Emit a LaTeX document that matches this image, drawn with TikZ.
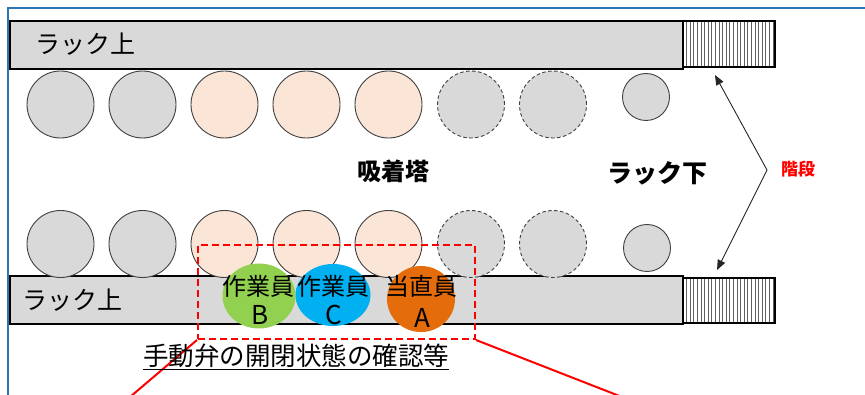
\documentclass[tikz,border=0pt]{standalone}
\usepackage{fontspec}
\setmainfont{Noto Sans CJK JP}
\usetikzlibrary{arrows.meta,shapes.geometric}
\definecolor{rackgray}{HTML}{D9D9D9}
\definecolor{peach}{HTML}{FBE5D6}
\definecolor{wgreen}{HTML}{92D050}
\definecolor{wblue}{HTML}{00B0F0}
\definecolor{worange}{HTML}{E46C0A}
\definecolor{framebl}{HTML}{2E75B6}
\definecolor{hatchgray}{HTML}{606060}
\tikzset{
  rackbox/.style={draw=black, line width=2pt, fill=rackgray, anchor=north west, inner sep=0pt, outer sep=0pt},
  stairbox/.style={draw=black, line width=2pt, fill=white, anchor=north west, inner sep=0pt, outer sep=0pt,
    path picture={\foreach \i in {1,...,25}{\draw[hatchgray, line width=1pt] ([xshift=\i*3.6pt]path picture bounding box.north west) -- ([xshift=\i*3.6pt]path picture bounding box.south west);}}},
  tower/.style={circle, draw=black!75, line width=0.9pt, minimum size=67pt, inner sep=0pt},
  gtower/.style={tower, fill=rackgray},
  ptower/.style={tower, fill=peach},
  dtower/.style={tower, fill=rackgray, dashed, dash pattern=on 3.5pt off 2.5pt},
  stower/.style={circle, draw=black!75, line width=0.9pt, minimum size=47pt, inner sep=0pt, fill=rackgray},
  worker/.style={ellipse, inner sep=0pt, draw=none},
  wtext/.style={font=\fontsize{24}{24}\selectfont, inner sep=0pt},
  wletter/.style={font=\fontsize{26}{26}\selectfont, inner sep=0pt},
  rtext/.style={font=\fontsize{25}{25}\selectfont, inner sep=0pt},
  btext/.style={font=\fontsize{24}{24}\selectfont\bfseries, inner sep=0pt},
  stairarrow/.style={draw=black!85, line width=0.9pt, -{Triangle[length=10pt,width=8pt]}},
  redzone/.style={draw=red, line width=2pt, dash pattern=on 7pt off 4pt},
  redline/.style={draw=red, line width=2pt}
}
\begin{document}
\begin{tikzpicture}[x=1pt, y=-1pt]
\useasboundingbox (0,0) rectangle (865,395);
\begin{scope}
\clip (0,0) rectangle (865,395);
% frame
\draw[framebl, line width=1.5pt] (8,400) -- (8,8) -- (870,8);

% racks and stairs
\node[rackbox, minimum width=673pt, minimum height=48pt] (rtop) at (10,21) {};
\node[stairbox, minimum width=92pt, minimum height=46pt] (stop) at (683,21) {};
\node[rackbox, minimum width=673pt, minimum height=48pt] (rbot) at (10,276) {};
\node[stairbox, minimum width=92pt, minimum height=45pt] (sbot) at (683,278) {};

\node[rtext] (ltop) at (85,44) {ラック上};
\node[rtext] (lbot) at (72,300) {ラック上};

% top row towers
\node[gtower] (t1) at (60.5,104.5) {};
\node[gtower] (t2) at (142.5,104.5) {};
\node[ptower] (t3) at (224.5,104.5) {};
\node[ptower] (t4) at (306.5,104.5) {};
\node[ptower] (t5) at (388.5,104.5) {};
\node[dtower] (t6) at (471,104.5) {};
\node[dtower] (t7) at (553,104.5) {};
\node[stower] (t8) at (646,97) {};

% bottom row towers
\node[gtower] (b1) at (60.5,244) {};
\node[gtower] (b2) at (142.5,244) {};
\node[ptower] (b3) at (224.5,244) {};
\node[ptower] (b4) at (306.5,244) {};
\node[ptower] (b5) at (388.5,244) {};
\node[dtower] (b6) at (471,244) {};
\node[dtower] (b7) at (553,244) {};
\node[stower] (b8) at (647,248) {};

% center labels
\node[btext] (kyu) at (393,171) {吸着塔};
\node[btext, font=\fontsize{25}{25}\selectfont\bfseries] (shita) at (657,173) {ラック下};

% stairs arrows
\coordinate (apex) at (767,170);
\coordinate (tipt) at (715,75);
\coordinate (tipb) at (717,270);
\draw[stairarrow] (apex) -- (tipt);
\draw[stairarrow] (apex) -- (tipb);
\node[font=\fontsize{17}{17}\selectfont\bfseries, text=red, inner sep=0pt] (kaidan) at (798,169) {階段};

% workers
\node[worker, fill=wgreen, minimum width=73pt, minimum height=65pt] (wb) at (259,296) {};
\node[worker, fill=wblue, minimum width=75pt, minimum height=62pt] (wc) at (333,295) {};
\node[worker, fill=worange, minimum width=68pt, minimum height=66pt] (wa) at (421,299) {};
\node[wtext] (wbt) at (258.5,286) {作業員};
\node[wletter] (wbl) at (260,315) {B};
\node[wtext] (wct) at (333,286) {作業員};
\node[wletter] (wcl) at (334,315) {C};
\node[wtext] (wat) at (421,286) {当直員};
\node[wletter] (wal) at (422,318) {A};

% red zone
\node[redzone, minimum width=277pt, minimum height=94pt, anchor=north west, inner sep=0pt] (zone) at (197,244) {};
\coordinate (zl) at (130,397);
\coordinate (zr) at (622,397);
\draw[redline] (zone.south west) -- (zl);
\draw[redline] (zone.south east) -- (zr);

\node[font=\fontsize{25.5}{25.5}\selectfont, inner sep=0pt] (note) at (296,357) {\underline{手動弁の開閉状態の確認等}};
\end{scope}
\end{tikzpicture}
\end{document}
